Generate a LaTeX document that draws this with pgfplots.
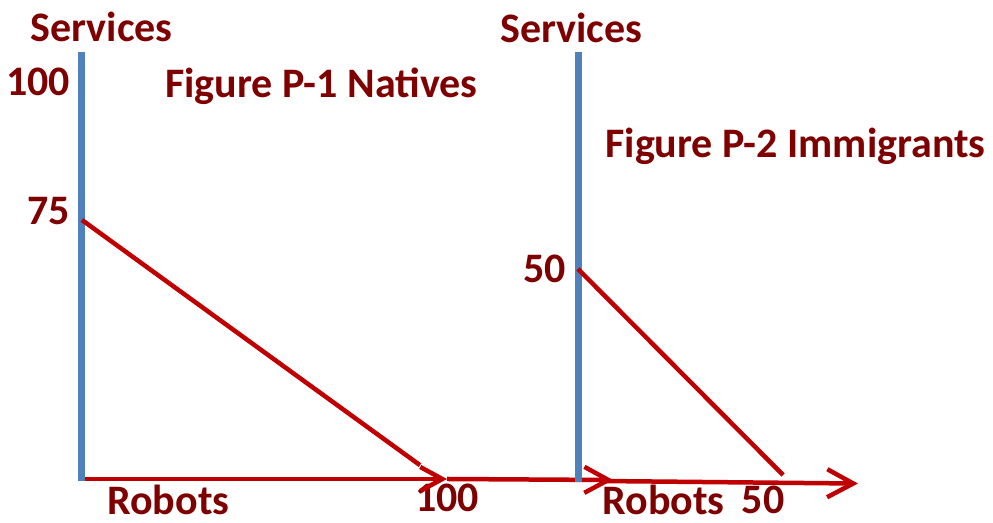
\documentclass[border=0pt]{standalone}
\usepackage{fontspec}
\setmainfont{Carlito}
\usepackage{pgfplots}
\pgfplotsset{compat=1.18}
\usetikzlibrary{arrows.meta}
\definecolor{txtred}{RGB}{127,0,0}
\definecolor{linered}{RGB}{192,0,0}
\definecolor{axisblue}{RGB}{79,129,189}

\pgfplotsset{
  panel/.style={
    axis x line*=bottom, axis y line*=left,
    axis line style={draw=none}, major tick length=0pt,
    enlargelimits=false, clip=false, anchor=south west,
    tick label style={font=\fontsize{21}{25}\selectfont\bfseries, text=txtred},
    yticklabel style={xshift=-2.5pt},
    xticklabel style={yshift=1pt},
  },
}
\tikzset{
  redline/.style={linered, line width=2.25pt},
  blueline/.style={axisblue, line width=3.5pt},
  lbl/.style={anchor=base west, inner sep=0pt, text=txtred, font=\fontsize{21}{25}\selectfont\bfseries},
}

\begin{document}
\begin{tikzpicture}
\useasboundingbox (0,0) rectangle (496.5pt,261.5pt);

% Figure P-1 Natives
\begin{axis}[panel, at={(41pt,22pt)}, x=1.825pt, y=1.7265pt,
  xmin=0, xmax=100, ymin=0, ymax=123.7,
  xtick={100}, xticklabels={100},
  ytick={77.6,115}, yticklabels={75,100}]
  \addplot[redline, -{Straight Barb[length=11pt,width=12pt]}] coordinates {(0,0) (100,0)};
  \addplot[redline, -{Straight Barb[length=12pt,width=13pt]}] coordinates {(100,0) (145.5,-0.3)};
  \addplot[blueline] coordinates {(0,-0.6) (0,123.7)};
  \addplot[redline] coordinates {(0,75) (92.6,4)};
  \node[lbl] at (axis cs:-14.2,126.6) {Services};
  \node[lbl] at (axis cs:22.7,110.6) {Figure P-1 Natives};
  \node[lbl] at (axis cs:6.85,-10.2) {Robots};
\end{axis}

% Figure P-2 Immigrants
\begin{axis}[panel, at={(289pt,21pt)}, x=1.825pt, y=2.12pt,
  xmin=0, xmax=76.7, ymin=0, ymax=101.2,
  xtick={50.7}, xticklabels={50},
  ytick={50}, yticklabels={50}]
  \addplot[redline, -{Straight Barb[length=13pt,width=14pt]}] coordinates {(6,0) (76.7,-0.6)};
  \addplot[blueline] coordinates {(0,-0.3) (0,101.2)};
  \addplot[redline] coordinates {(0,50) (56.2,1.4)};
  \node[lbl] at (axis cs:-21.4,103.5) {Services};
  \node[lbl] at (axis cs:7.4,76.4) {Figure P-2 Immigrants};
  \node[lbl] at (axis cs:6.6,-7.8) {Robots};
\end{axis}
\end{tikzpicture}
\end{document}
